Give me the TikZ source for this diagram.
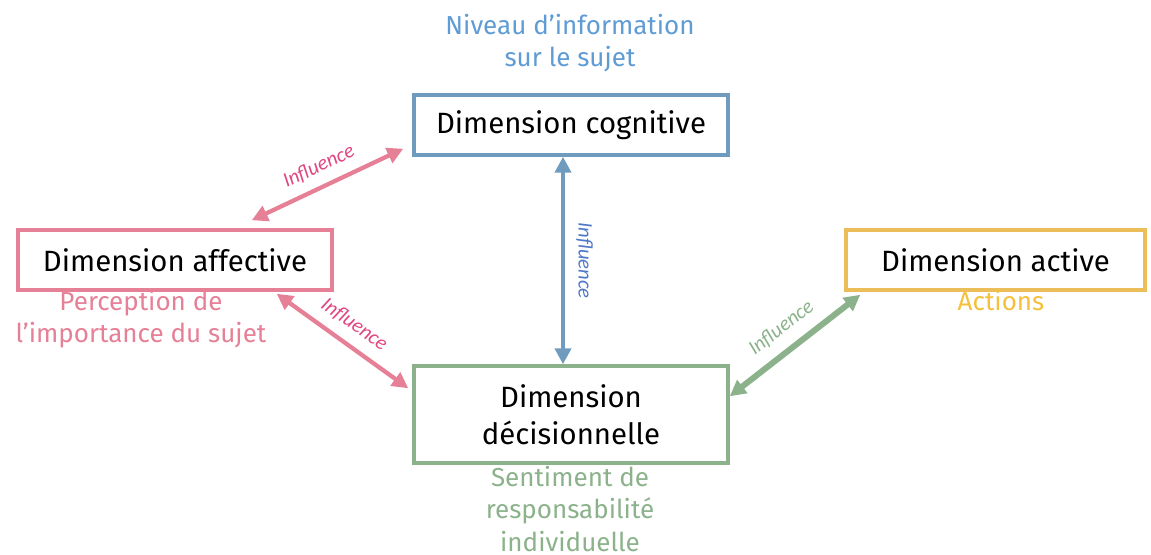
\documentclass[tikz,border=0pt]{standalone}
\usepackage{fontspec}
\setmainfont{Fira Sans}
\newfontfamily\inflfont{Carlito}
\usetikzlibrary{arrows.meta,calc}

\definecolor{cogblue}{RGB}{110,155,190}
\definecolor{niveaublue}{RGB}{95,155,212}
\definecolor{inflblue}{RGB}{80,120,200}
\definecolor{affpink}{RGB}{230,128,150}
\definecolor{inflpink}{RGB}{225,70,130}
\definecolor{decgreen}{RGB}{140,178,140}
\definecolor{actyellow}{RGB}{235,190,90}
\definecolor{actiontxt}{RGB}{245,192,60}

\tikzset{
  dimbox/.style={draw, line width=2.6pt, minimum height=60*0.75pt, inner sep=0pt,
    font=\fontsize{22}{27}\selectfont, align=center},
  note/.style={font=\fontsize{19.5}{24.4}\selectfont, align=center},
  influ/.style={font=\inflfont\itshape\fontsize{15.5}{18}\selectfont},
  link/.style={line width=3.2pt, {Triangle[length=12pt,width=12pt]}-{Triangle[length=12pt,width=12pt]}},
}

\begin{document}
\begin{tikzpicture}[x=0.75pt,y=-0.75pt]
% 1151 x 554 px
\useasboundingbox (0,0) rectangle (1151,554);

% dimensions
\node[dimbox, draw=cogblue, minimum width=314*0.75pt] (cog) at (571,125) {Dimension cognitive};
\node[dimbox, draw=affpink, minimum width=314*0.75pt] (aff) at (175,260) {Dimension affective};
\node[dimbox, draw=actyellow, minimum width=299*0.75pt] (act) at (995.5,260) {Dimension active};
\node[dimbox, draw=decgreen, minimum width=314*0.75pt, minimum height=97*0.75pt] (dec) at (571,414.5) {Dimension\\[1pt]décisionnelle};

% notes
\node[note, text=niveaublue] (niveau) at (570,43) {Niveau d’information\\sur le sujet};
\node[note, text=affpink] (percep) at (141,319) {Perception de\\l’importance du sujet};
\node[note, text=actiontxt] (actions) at (1001,301) {Actions};
\node[note, text=decgreen] (sentim) at (570,509) {Sentiment de\\responsabilité\\individuelle};

% influences
\draw[link, draw=affpink, fill=affpink] ($(aff.north east)+(-82,-8)$) -- ($(cog.south west)+(-9,-8)$)
  node[midway, sloped, above=4pt, influ, text=inflpink] {Influence};
\draw[link, draw=affpink, fill=affpink] ($(aff.south east)+(-57,2)$) -- ($(dec.north west)+(-4,24)$)
  node[midway, sloped, above=4pt, influ, text=inflpink] {Influence};
\draw[link, draw=cogblue, fill=cogblue] ($(cog.south)+(-8,0)$) -- ($(dec.north)+(-8,0)$)
  node[midway, sloped, above=5pt, influ, text=inflblue] {Influence};
\draw[link, line width=4.5pt, draw=decgreen, fill=decgreen] ($(dec.north east)+(0,32)$) -- ($(act.south west)+(16,3)$)
  node[midway, sloped, above=5pt, influ, text=decgreen] {Influence};
\end{tikzpicture}
\end{document}
